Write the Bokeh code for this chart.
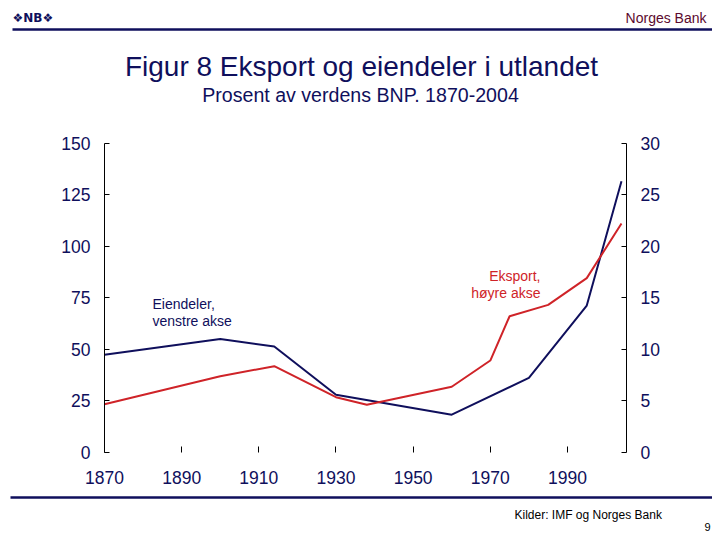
from bokeh.plotting import figure
from bokeh.models import Range1d, LinearAxis, FixedTicker, Label
from bokeh.core.properties import value
from bokeh.embed import file_html
from bokeh.resources import INLINE

# ---- data ----
years_assets = [1870, 1900, 1914, 1930, 1960, 1980, 1995, 2004]
assets = [47.3, 55.0, 51.3, 27.9, 18.2, 36.1, 71.2, 131.5]          # % of world GDP, left axis
years_exports = [1870, 1900, 1914, 1930, 1938, 1960, 1970, 1975, 1985, 1995, 2004]
exports = [4.66, 7.38, 8.35, 5.34, 4.6, 6.35, 8.9, 13.2, 14.3, 16.9, 22.2]  # right axis
left_ticks = [0, 25, 50, 75, 100, 125, 150]
right_ticks = [0, 5, 10, 15, 20, 25, 30]
x_ticks = [1870, 1890, 1910, 1930, 1950, 1970, 1990]

title = "Figur 8 Eksport og eiendeler i utlandet"
subtitle = "Prosent av verdens BNP. 1870-2004"
source = "Kilder: IMF og Norges Bank"
bank = "Norges Bank"
logo = "\u2756NB\u2756"
page_no = "9"
label_assets = ["Eiendeler,", "venstre akse"]
label_exports = ["Eksport,", "høyre akse"]

NAVY = "#0f0f5c"
RED = "#cf2328"
MAROON = "#5c0a2e"
FONT = "Liberation Sans"

# ---- canvas geometry (pixels) ----
W, H = 712, 532
FL, FR, FT, FB = 104.0, 626.0, 142.7, 451.7      # chart area edges
X_MIN, X_MAX = 1870, 2005.3
L_MAX, R_MAX = 150, 30
ppx = (FR - FL) / (X_MAX - X_MIN)
ppl = (FB - FT) / L_MAX
ppr = (FB - FT) / R_MAX

x_range = Range1d(X_MIN - FL / ppx, X_MIN + (W - FL) / ppx)
y_range = Range1d(-(H - FB) / ppl, FB / ppl)
r_range = Range1d(-(H - FB) / ppr, FB / ppr)


def X(px):
    return X_MIN + (px - FL) / ppx


def Y(py):
    return (FB - py) / ppl


p = figure(width=W, height=H, x_range=x_range, y_range=y_range,
           x_axis_type=None, y_axis_type=None, output_backend="svg", toolbar_location=None,
           min_border=0)
p.outline_line_color = None
p.extra_y_ranges = {"right": r_range}


def style_axis(ax, standoff):
    ax.axis_line_color = "black"
    ax.axis_line_width = 1
    ax.major_tick_in = 5
    ax.major_tick_out = 0
    ax.major_tick_line_color = "black"
    ax.minor_tick_line_color = None
    ax.major_label_text_font = FONT
    ax.major_label_text_font_size = "17.5px"
    ax.major_label_text_color = NAVY
    ax.major_label_standoff = standoff


lax = LinearAxis(ticker=FixedTicker(ticks=left_ticks), fixed_location=X_MIN, bounds=(0, L_MAX))
style_axis(lax, 14)
p.add_layout(lax, "left")

rax = LinearAxis(ticker=FixedTicker(ticks=right_ticks), y_range_name="right",
                 fixed_location=X_MAX, bounds=(0, R_MAX))
style_axis(rax, 14)
p.add_layout(rax, "right")

bax = LinearAxis(ticker=FixedTicker(ticks=x_ticks), fixed_location=0, bounds=(X_MIN, X_MAX))
style_axis(bax, 19)
bax.axis_line_color = None
bax.major_tick_in = 6
p.add_layout(bax, "below")

p.line(years_assets, assets, line_color=NAVY, line_width=2)
p.line(years_exports, exports, line_color=RED, line_width=2, y_range_name="right")

for i, s in enumerate(label_assets):
    p.add_layout(Label(x=X(152), y=Y(303 + 17.5 * i), text=s, text_font=FONT, text_font_size="14px",
                       text_color=NAVY, text_baseline="middle", text_align="left"))
for i, s in enumerate(label_exports):
    p.add_layout(Label(x=X(540), y=Y(275 + 17 * i), text=s, text_font=FONT, text_font_size="14px",
                       text_color=RED, text_baseline="middle", text_align="right"))


def txt(px, py, s, size, color, align="left", bold=False, font=FONT):
    p.text(x=[X(px)], y=[Y(py)], text=[s], text_font=value(font), text_font_size=value(size),
           text_color=color, text_align=align, text_baseline="middle",
           text_font_style="bold" if bold else "normal")


def rule(x0, x1, py):
    p.segment(x0=[X(x0)], y0=[Y(py)], x1=[X(x1)], y1=[Y(py)], line_color=NAVY, line_width=2.5)


# header
txt(12, 17, logo, "12px", NAVY, bold=True, font="DejaVu Sans")
txt(706, 17, bank, "14px", MAROON, align="right")
rule(12, 712, 29)
txt(361, 65.5, title, "28px", NAVY, align="center")
txt(360, 94, subtitle, "19.6px", NAVY, align="center")

# footer
rule(10, 712, 497)
txt(514, 514, source, "12px", "black")
txt(707, 526, page_no, "11px", "black", align="center")

open("out.html", "w").write(file_html(p, INLINE))
